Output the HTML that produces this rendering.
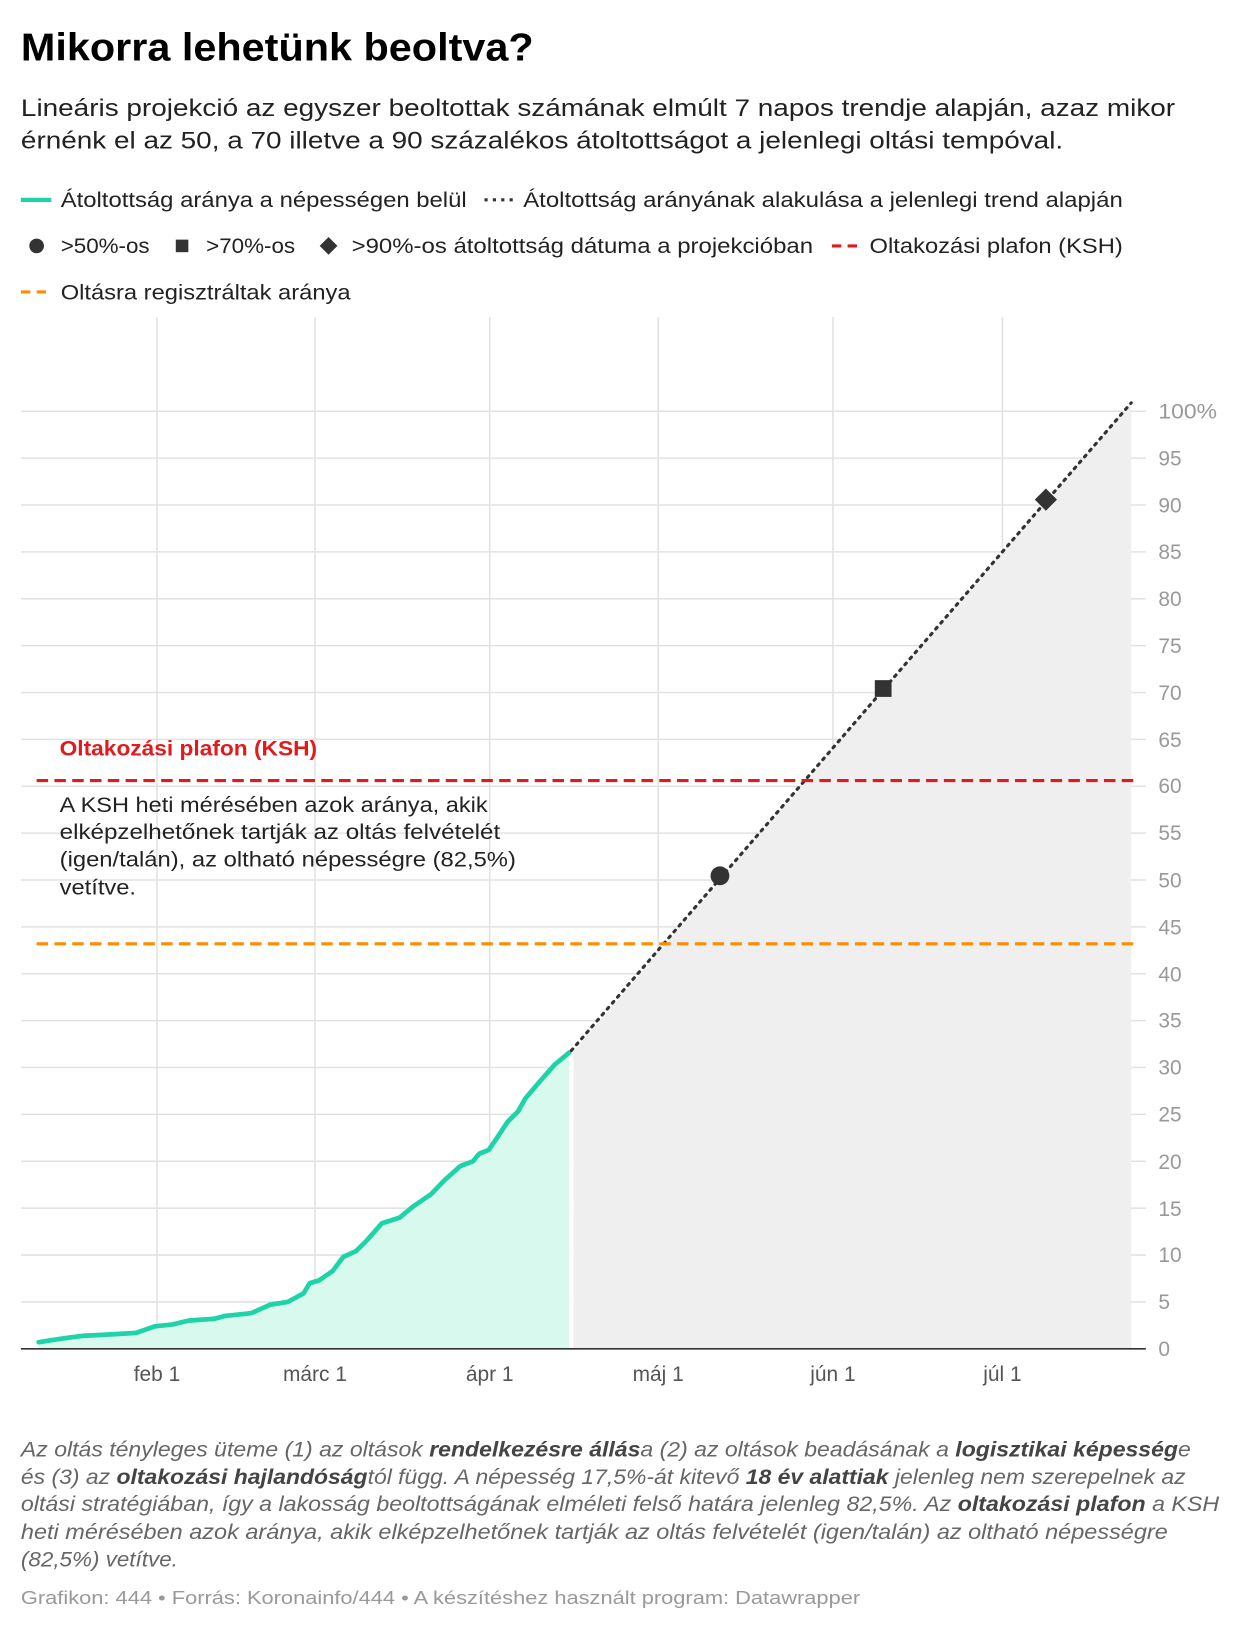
<!DOCTYPE html>
<html><head><meta charset="utf-8"><style>body{margin:0;background:#fff}svg{display:block}text{font-family:"Liberation Sans",sans-serif}</style></head><body>
<svg width="1240" height="1640" viewBox="0 0 1185 1567.3" preserveAspectRatio="none">
<text x="20" y="58" font-size="37" font-weight="bold" fill="#000" textLength="490" lengthAdjust="spacingAndGlyphs">Mikorra lehetünk beoltva?</text>
<text x="20" y="111" font-size="23" fill="#222" textLength="1103" lengthAdjust="spacingAndGlyphs">Lineáris projekció az egyszer beoltottak számának elmúlt 7 napos trendje alapján, azaz mikor</text>
<text x="20" y="142" font-size="23" fill="#222" textLength="996" lengthAdjust="spacingAndGlyphs">érnénk el az 50, a 70 illetve a 90 százalékos átoltottságot a jelenlegi oltási tempóval.</text>
<g font-size="20" fill="#222">
<line x1="20" y1="191" x2="49" y2="191" stroke="#1dd3a7" stroke-width="4"/>
<text x="58" y="198" textLength="388" lengthAdjust="spacingAndGlyphs">Átoltottság aránya a népességen belül</text>
<line x1="463" y1="191" x2="492" y2="191" stroke="#333" stroke-width="3" stroke-dasharray="3,5"/>
<text x="500" y="198" textLength="573" lengthAdjust="spacingAndGlyphs">Átoltottság arányának alakulása a jelenlegi trend alapján</text>
<circle cx="35" cy="235" r="7" fill="#333"/><text x="58" y="242" textLength="85" lengthAdjust="spacingAndGlyphs">&gt;50%-os</text>
<rect x="168" y="229" width="12" height="12" fill="#333"/><text x="197" y="242" textLength="85" lengthAdjust="spacingAndGlyphs">&gt;70%-os</text>
<rect x="308" y="229" width="12" height="12" fill="#333" transform="rotate(45 314 235)"/><text x="336" y="242" textLength="441" lengthAdjust="spacingAndGlyphs">&gt;90%-os átoltottság dátuma a projekcióban</text>
<line x1="795" y1="235" x2="823" y2="235" stroke="#e31a1c" stroke-width="3" stroke-dasharray="9,6"/><text x="831" y="242" textLength="242" lengthAdjust="spacingAndGlyphs">Oltakozási plafon (KSH)</text>
<line x1="20" y1="279" x2="48" y2="279" stroke="#ff8c00" stroke-width="3" stroke-dasharray="9,6"/><text x="58" y="286" textLength="277" lengthAdjust="spacingAndGlyphs">Oltásra regisztráltak aránya</text>
</g>
<g stroke="#e2e2e2" stroke-width="1.5">
<line x1="150" y1="303" x2="150" y2="1289"/><line x1="301" y1="303" x2="301" y2="1289"/><line x1="468" y1="303" x2="468" y2="1289"/><line x1="629" y1="303" x2="629" y2="1289"/><line x1="796" y1="303" x2="796" y2="1289"/><line x1="958" y1="303" x2="958" y2="1289"/>
<line x1="20" y1="393" x2="1095" y2="393"/><line x1="20" y1="437.8" x2="1095" y2="437.8"/><line x1="20" y1="482.6" x2="1095" y2="482.6"/><line x1="20" y1="527.4" x2="1095" y2="527.4"/><line x1="20" y1="572.2" x2="1095" y2="572.2"/><line x1="20" y1="617" x2="1095" y2="617"/><line x1="20" y1="661.8" x2="1095" y2="661.8"/><line x1="20" y1="706.6" x2="1095" y2="706.6"/><line x1="20" y1="751.4" x2="1095" y2="751.4"/><line x1="20" y1="796.2" x2="1095" y2="796.2"/><line x1="20" y1="841" x2="1095" y2="841"/><line x1="20" y1="885.8" x2="1095" y2="885.8"/><line x1="20" y1="930.6" x2="1095" y2="930.6"/><line x1="20" y1="975.4" x2="1095" y2="975.4"/><line x1="20" y1="1020.2" x2="1095" y2="1020.2"/><line x1="20" y1="1065" x2="1095" y2="1065"/><line x1="20" y1="1109.8" x2="1095" y2="1109.8"/><line x1="20" y1="1154.6" x2="1095" y2="1154.6"/><line x1="20" y1="1199.4" x2="1095" y2="1199.4"/><line x1="20" y1="1244.2" x2="1095" y2="1244.2"/>
</g>
<polygon points="547,1289 547,1006 1081,385 1081,1289" fill="#efefef"/>
<polygon points="37,1289 37,1282.7 60,1279.1 80,1276.5 100,1275.6 130,1273.8 148,1267.5 165,1265.7 180,1262.1 205,1260.3 215,1257.6 240,1255 258,1246.9 275,1244.2 290,1236.1 296,1226.3 305,1223.6 318,1214.6 328,1201.2 340,1195.8 350,1186 365,1169 382,1163.6 395,1152.8 412,1141.2 425,1127.7 440,1114.3 452,1109.8 458,1102.6 467,1099 475,1087.4 485,1072.2 495,1062.3 502,1049.8 515,1034.5 530,1017.5 544,1005.9 544,1289" fill="#d8f9ee"/>
<line x1="546" y1="1005" x2="546" y2="1289" stroke="#fff" stroke-width="4"/>
<polyline points="37,1282.7 60,1279.1 80,1276.5 100,1275.6 130,1273.8 148,1267.5 165,1265.7 180,1262.1 205,1260.3 215,1257.6 240,1255 258,1246.9 275,1244.2 290,1236.1 296,1226.3 305,1223.6 318,1214.6 328,1201.2 340,1195.8 350,1186 365,1169 382,1163.6 395,1152.8 412,1141.2 425,1127.7 440,1114.3 452,1109.8 458,1102.6 467,1099 475,1087.4 485,1072.2 495,1062.3 502,1049.8 515,1034.5 530,1017.5 544,1005.9" fill="none" stroke="#1dd3a7" stroke-width="4.5" stroke-linejoin="round" stroke-linecap="round"/>
<line x1="546" y1="1004" x2="1081" y2="385" stroke="#333" stroke-width="3" stroke-dasharray="2,5.5" stroke-linecap="round"/>
<line x1="35" y1="746" x2="1084" y2="746" stroke="#e31a1c" stroke-width="3" stroke-dasharray="11,6"/>
<line x1="35" y1="902" x2="1084" y2="902" stroke="#ff8c00" stroke-width="3" stroke-dasharray="11,6"/>
<circle cx="688" cy="837" r="9" fill="#333"/>
<rect x="836" y="650" width="16" height="16" fill="#333"/>
<rect x="992" y="470" width="15" height="15" fill="#333" transform="rotate(45 999.5 477.5)"/>
<line x1="20" y1="1289" x2="1095" y2="1289" stroke="#333" stroke-width="1.5"/>
<g font-size="20" fill="#999">
<text x="1107" y="400" textLength="56" lengthAdjust="spacingAndGlyphs">100%</text><text x="1107" y="445">95</text><text x="1107" y="490">90</text><text x="1107" y="534">85</text><text x="1107" y="579">80</text><text x="1107" y="624">75</text><text x="1107" y="669">70</text><text x="1107" y="714">65</text><text x="1107" y="758">60</text><text x="1107" y="803">55</text><text x="1107" y="848">50</text><text x="1107" y="893">45</text><text x="1107" y="938">40</text><text x="1107" y="982">35</text><text x="1107" y="1027">30</text><text x="1107" y="1072">25</text><text x="1107" y="1117">20</text><text x="1107" y="1162">15</text><text x="1107" y="1206">10</text><text x="1107" y="1251">5</text><text x="1107" y="1296">0</text>
</g>
<g font-size="20" fill="#555" text-anchor="middle">
<text x="150" y="1320">feb 1</text><text x="301" y="1320">márc 1</text><text x="468" y="1320">ápr 1</text><text x="629" y="1320">máj 1</text><text x="796" y="1320">jún 1</text><text x="958" y="1320">júl 1</text>
</g>
<text x="57" y="722" font-size="20" font-weight="bold" fill="#e31a1c" textLength="246" lengthAdjust="spacingAndGlyphs">Oltakozási plafon (KSH)</text>
<g font-size="20" fill="#222">
<text x="57" y="776" textLength="409" lengthAdjust="spacingAndGlyphs">A KSH heti mérésében azok aránya, akik</text>
<text x="57" y="802" textLength="421" lengthAdjust="spacingAndGlyphs">elképzelhetőnek tartják az oltás felvételét</text>
<text x="57" y="828" textLength="436" lengthAdjust="spacingAndGlyphs">(igen/talán), az oltható népességre (82,5%)</text>
<text x="57" y="855" textLength="73" lengthAdjust="spacingAndGlyphs">vetítve.</text>
</g>
<g font-size="20" font-style="italic" fill="#666">
<text x="20" y="1392" textLength="1118" lengthAdjust="spacingAndGlyphs">Az oltás tényleges üteme (1) az oltások <tspan font-weight="bold" fill="#444">rendelkezésre állás</tspan>a (2) az oltások beadásának a <tspan font-weight="bold" fill="#444">logisztikai képesség</tspan>e</text>
<text x="20" y="1418" textLength="1113" lengthAdjust="spacingAndGlyphs">és (3) az <tspan font-weight="bold" fill="#444">oltakozási hajlandóság</tspan>tól függ. A népesség 17,5%-át kitevő <tspan font-weight="bold" fill="#444">18 év alattiak</tspan> jelenleg nem szerepelnek az</text>
<text x="20" y="1444" textLength="1145" lengthAdjust="spacingAndGlyphs">oltási stratégiában, így a lakosság beoltottságának elméleti felső határa jelenleg 82,5%. Az <tspan font-weight="bold" fill="#444">oltakozási plafon</tspan> a KSH</text>
<text x="20" y="1471" textLength="1096" lengthAdjust="spacingAndGlyphs">heti mérésében azok aránya, akik elképzelhetőnek tartják az oltás felvételét (igen/talán) az oltható népességre</text>
<text x="20" y="1497" textLength="150" lengthAdjust="spacingAndGlyphs">(82,5%) vetítve.</text>
</g>
<text x="20" y="1533" font-size="18" fill="#999" textLength="802" lengthAdjust="spacingAndGlyphs">Grafikon: 444 • Forrás: Koronainfo/444 • A készítéshez használt program: Datawrapper</text>
</svg>
</body></html>
